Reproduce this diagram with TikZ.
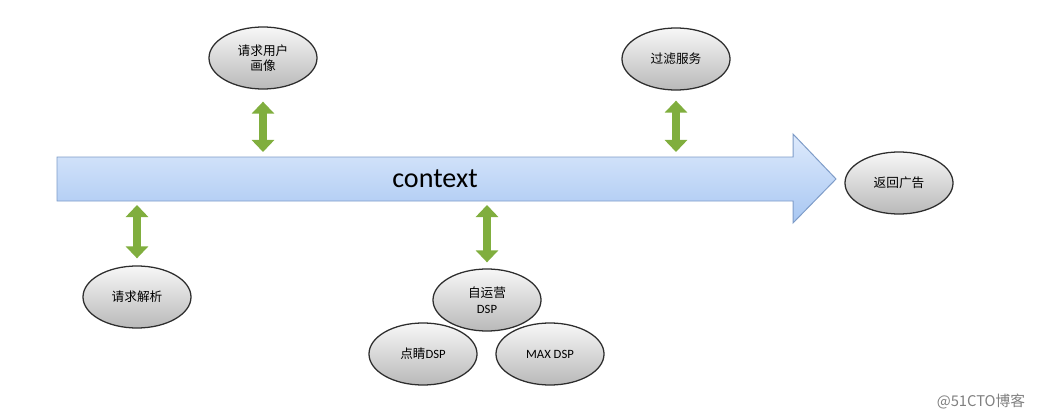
\documentclass[tikz,border=0pt]{standalone}
\usepackage{fontspec}
\setmainfont{Carlito}
\newfontfamily\cjk{Noto Sans CJK SC}
\usetikzlibrary{shapes.geometric,arrows.meta}
\definecolor{ctxtop}{RGB}{222,234,252}
\definecolor{ctxbottom}{RGB}{168,199,242}
\definecolor{ctxedge}{RGB}{126,156,200}
\definecolor{linkgreen}{RGB}{128,174,62}
\definecolor{stageedge}{RGB}{45,45,45}

\tikzset{
	stage/.style={ellipse, draw=stageedge, line width=0.9pt, top color=white!94!gray, bottom color=gray!55,
		minimum width=2.7cm, minimum height=1.55cm, inner sep=0pt, align=center,
		font=\fontsize{9}{11}\selectfont},
	link/.style={draw=linkgreen, line width=0.21cm, {Triangle[width=0.55cm,length=0.3cm]}-{Triangle[width=0.55cm,length=0.3cm]}}
}

\begin{document}
\begin{tikzpicture}[x=0.025cm, y=-0.025cm]
			\useasboundingbox (0,0) rectangle (1040,420);
			% context arrow
			\draw[draw=ctxedge, line width=0.7pt, top color=ctxtop, bottom color=ctxbottom]
				(57,157) -- (793,157) -- (793,134) -- (836,179) -- (793,223) -- (793,201) -- (57,201) -- cycle;
			\node (ctx) at (435,179) {\fontsize{20}{23}\selectfont context};
			\coordinate (bodytop) at (0,157);
			\coordinate (bodybot) at (0,201);
			% stages
			\node[stage] (portrait) at (263,58) {{\cjk 请求用户}\\{\cjk 画像}};
			\node[stage] (filter) at (676,59) {\cjk 过滤服务};
			\node[stage] (parse) at (137,297) {\cjk 请求解析};
			\node[stage] (selfdsp) at (487,300) {{\cjk 自运营}\\DSP};
			\node[stage] (dianjing) at (423,354) {{\cjk 点睛}DSP};
			\node[stage] (maxdsp) at (550,354) {MAX DSP};
			\node[stage] (back) at (899,183) {\cjk 返回广告};
			% links
			\draw[link, shorten <=0.3cm, shorten >=0.125cm] (portrait.south) -- (portrait.south |- bodytop);
			\draw[link, shorten <=0.25cm, shorten >=0.125cm] (filter.south) -- (filter.south |- bodytop);
			\draw[link, shorten <=0.175cm, shorten >=0.1cm] (parse.north) -- (parse.north |- bodybot);
			\draw[link, shorten <=0.15cm, shorten >=0.1cm] (selfdsp.north) -- (selfdsp.north |- bodybot);
			% mark
			\node[text=gray, font=\cjk\fontsize{10.5}{12}\selectfont] (mark) at (981,402) {@51CTO博客};
\end{tikzpicture}
\end{document}
